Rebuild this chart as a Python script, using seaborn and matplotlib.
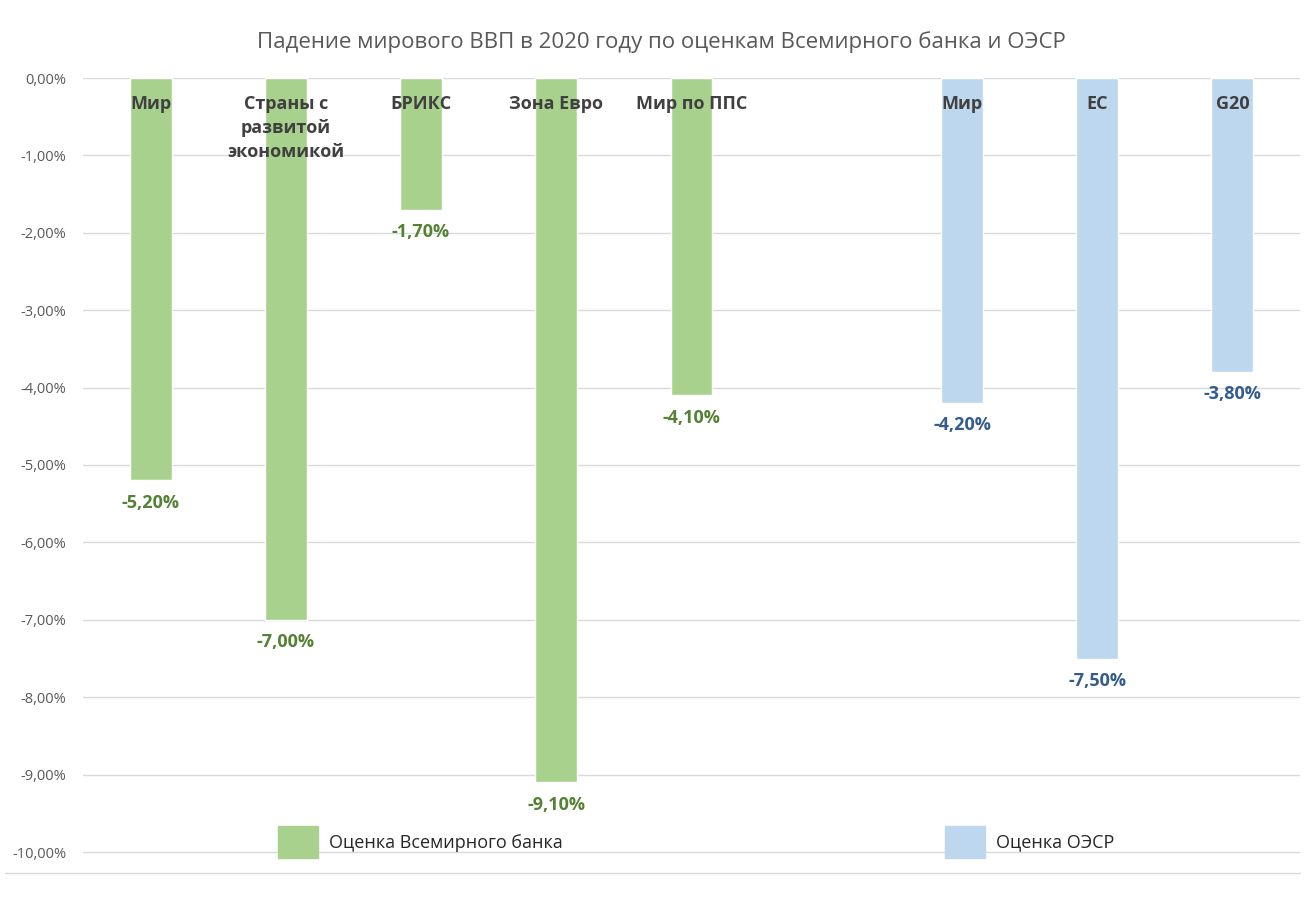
import pandas as pd
import matplotlib.pyplot as plt
import seaborn as sns
from matplotlib.patches import Patch
from matplotlib.lines import Line2D

# Data
wb_names = ["Мир", "Страны с\nразвитой\nэкономикой", "БРИКС", "Зона Евро", "Мир по ППС"]
wb_values = [-5.2, -7.0, -1.7, -9.1, -4.1]
oecd_names = ["Мир", "ЕС", "G20"]
oecd_values = [-4.2, -7.5, -3.8]

WB_LABEL = "Оценка Всемирного банка"
OECD_LABEL = "Оценка ОЭСР"
GREEN = "#A9D18E"
BLUE = "#BDD7EE"

# slot 5 is left empty between the two groups
df = pd.DataFrame({
    "pos": list(range(5)) + [6, 7, 8],
    "value": wb_values + oecd_values,
    "name": wb_names + oecd_names,
    "source": [WB_LABEL] * 5 + [OECD_LABEL] * 3,
})

sns.set_style("white")
plt.rcParams["font.family"] = ["Open Sans", "DejaVu Sans"]

fig = plt.figure(figsize=(13.12, 9.06), dpi=100)
ymin = -10.04
ax = fig.add_axes([83 / 1312, 1 - (78 + 77.4 * -ymin) / 906, 1217 / 1312, 77.4 * -ymin / 906])

sns.barplot(data=df, x="pos", y="value", hue="source", native_scale=True, dodge=False,
            width=0.31, palette={WB_LABEL: GREEN, OECD_LABEL: BLUE}, saturation=1,
            legend=False, ax=ax)

ax.set_xlim(-0.5, 8.5)
ax.set_ylim(ymin, 0)
ax.set_yticks(range(-10, 1))
ax.set_yticklabels([f"{v:.2f}".replace(".", ",") + "%" for v in range(-10, 1)],
                   fontsize=10.5, color="#595959")
ax.tick_params(axis="y", length=0, pad=12)
ax.set_xticks([])
ax.set_xlabel("")
ax.set_ylabel("")
ax.grid(axis="y", color="#D9D9D9", linewidth=1)
ax.set_axisbelow(True)
for s in ax.spines.values():
    s.set_visible(False)

for _, row in df.iterrows():
    col = "#548235" if row["source"] == WB_LABEL else "#335C8C"
    ax.annotate(f"{row['value']:.2f}".replace(".", ",") + "%", (row["pos"], row["value"]),
                xytext=(0, -16), textcoords="offset points", ha="center", va="center",
                fontsize=13, fontweight="bold", color=col)
    ax.annotate(row["name"], (row["pos"], 0), xytext=(0, -12), textcoords="offset points",
                ha="center", va="top", fontsize=13, fontweight="bold", color="#404040",
                linespacing=1.45)

fig.suptitle("Падение мирового ВВП в 2020 году по оценкам Всемирного банка и ОЭСР",
             x=661 / 1312, y=1 - 42 / 906, va="center", fontsize=16, color="#595959")

leg_y = 1 - (842 - 78) / (77.4 * -ymin)
leg1 = ax.legend(handles=[Patch(color=GREEN, label=WB_LABEL)], loc="center left",
                 bbox_to_anchor=((278 - 83) / 1217, leg_y),
                 frameon=False, fontsize=13, borderaxespad=0, borderpad=0,
                 handlelength=2.2, handleheight=2.4, handletextpad=0.6)
ax.add_artist(leg1)
ax.legend(handles=[Patch(color=BLUE, label=OECD_LABEL)], loc="center left",
          bbox_to_anchor=((945 - 83) / 1217, leg_y),
          frameon=False, fontsize=13, borderaxespad=0, borderpad=0,
          handlelength=2.2, handleheight=2.4, handletextpad=0.6)

fig.add_artist(Line2D([5 / 1312, 1300 / 1312], [1 - 873 / 906] * 2, color="#D9D9D9", lw=1))

fig.savefig("out.png", dpi=100, facecolor="white")
